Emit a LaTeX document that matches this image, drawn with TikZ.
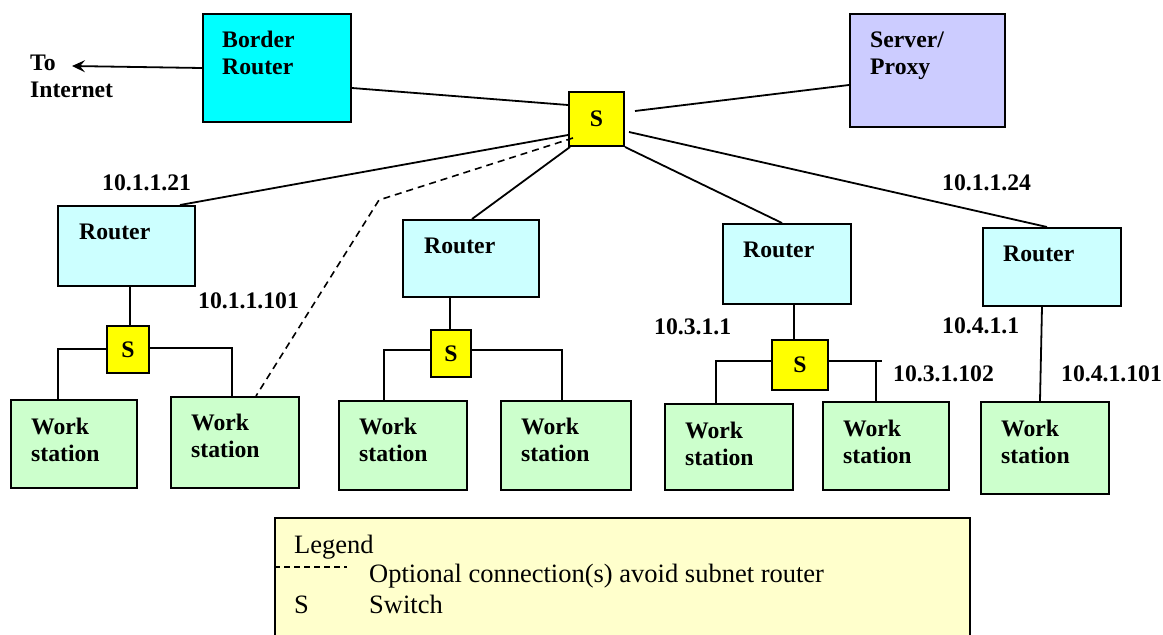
\documentclass[tikz,border=0pt]{standalone}
\usepackage{fontspec}
\setmainfont{Liberation Serif}
\usetikzlibrary{calc,arrows.meta}
\definecolor{brfill}{RGB}{0,255,255}
\definecolor{srvfill}{RGB}{204,204,255}
\definecolor{rtrfill}{RGB}{204,255,255}
\definecolor{wsfill}{RGB}{204,255,204}
\definecolor{swfill}{RGB}{255,255,0}
\definecolor{legfill}{RGB}{255,255,204}
\begin{document}
\begin{tikzpicture}[x=1pt,y=-1pt,
  box/.style={draw=black, line width=2pt, anchor=north west, inner sep=0pt},
  rtr/.style={box, fill=rtrfill},
  ws/.style={box, fill=wsfill},
  sw/.style={box, fill=swfill, font=\bfseries\fontsize{23.7}{27}\selectfont},
  lbl/.style={anchor=base west, inner sep=0pt, font=\bfseries\fontsize{23.7}{27}\selectfont},
  leg/.style={anchor=base west, inner sep=0pt, font=\fontsize{26.5}{30}\selectfont},
  conn/.style={line width=1.8pt},
  opt/.style={line width=1.6pt, dash pattern=on 7pt off 5pt}]
\useasboundingbox (0,0) rectangle (1163,635);

% top row
\node[box, fill=brfill, minimum width=148, minimum height=108] (br) at (202,13) {};
\node[lbl] (brt1) at (222,47) {Border};
\node[lbl] (brt2) at (222,74) {Router};
\node[box, fill=srvfill, minimum width=155, minimum height=113] (srv) at (849,13) {};
\node[lbl] (srvt1) at (870,47) {Server/};
\node[lbl] (srvt2) at (870,74) {Proxy};
\node[sw, minimum width=55, minimum height=54] (cs) at (568,91) {S};
\node[lbl] (inet1) at (30,70) {To};
\node[lbl] (inet2) at (30,97) {Internet};
\coordinate (inetpt) at (72,66);

% routers
\node[rtr, minimum width=137, minimum height=80] (r1) at (57,205) {};
\node[lbl] (r1t) at (79,239) {Router};
\node[rtr, minimum width=136, minimum height=77] (r2) at (402,219) {};
\node[lbl] (r2t) at (424,253) {Router};
\node[rtr, minimum width=128, minimum height=80] (r3) at (722,223) {};
\node[lbl] (r3t) at (743,257) {Router};
\node[rtr, minimum width=138, minimum height=78] (r4) at (982,227) {};
\node[lbl] (r4t) at (1003,261) {Router};

% switches
\node[sw, minimum width=42, minimum height=47] (s1) at (106,325) {S};
\node[sw, minimum width=40, minimum height=47] (s2) at (430,329) {S};
\node[sw, minimum width=56, minimum height=50] (s3) at (771,339) {S};

% workstations
\node[ws, minimum width=126, minimum height=88] (w1) at (10,399) {};
\node[lbl] (w1a) at (31,434) {Work};
\node[lbl] (w1b) at (31,461) {station};
\node[ws, minimum width=128, minimum height=91] (w2) at (170,396) {};
\node[lbl] (w2a) at (191,430) {Work};
\node[lbl] (w2b) at (191,457) {station};
\node[ws, minimum width=128, minimum height=89] (w3) at (338,400) {};
\node[lbl] (w3a) at (359,434) {Work};
\node[lbl] (w3b) at (359,461) {station};
\node[ws, minimum width=130, minimum height=89] (w4) at (500,400) {};
\node[lbl] (w4a) at (521,434) {Work};
\node[lbl] (w4b) at (521,461) {station};
\node[ws, minimum width=128, minimum height=86] (w5) at (664,403) {};
\node[lbl] (w5a) at (685,438) {Work};
\node[lbl] (w5b) at (685,465) {station};
\node[ws, minimum width=126, minimum height=88] (w6) at (822,401) {};
\node[lbl] (w6a) at (843,436) {Work};
\node[lbl] (w6b) at (843,463) {station};
\node[ws, minimum width=128, minimum height=92] (w7) at (980,401) {};
\node[lbl] (w7a) at (1001,436) {Work};
\node[lbl] (w7b) at (1001,463) {station};

% address labels
\node[lbl] (a1) at (102,190) {10.1.1.21};
\node[lbl] (a2) at (198,308) {10.1.1.101};
\node[lbl] (a3) at (942,190) {10.1.1.24};
\node[lbl] (a4) at (654,334) {10.3.1.1};
\node[lbl] (a5) at (942,333) {10.4.1.1};
\node[lbl] (a6) at (893,381) {10.3.1.102};
\node[lbl] (a7) at (1061,381) {10.4.1.101};

% top connectors
\draw[conn, -{Stealth[length=13pt,width=12pt,inset=5pt]}] ($(br.north west)+(0,55)$) -- (inetpt);
\draw[conn] ($(br.north east)+(0,75)$) -- ($(cs.north west)+(0,14)$);
\draw[conn] ($(cs.east)+(10,-8)$) -- ($(srv.north west)+(0,72)$);
\draw[conn] ($(cs.south west)+(0,-12)$) -- ($(r1.north west)+(123,0)$);
\coordinate (bend) at (379,200);
\draw[opt] ($(cs.south west)+(5,-9)$) -- (bend) -- ($(w2.north west)+(86,0)$);
\draw[conn] ($(cs.south west)+(2,0)$) -- ($(r2.north west)+(70,0)$);
\draw[conn] (cs.south east) -- ($(r3.north west)+(60,0)$);
\draw[conn] ($(cs.east)+(4,13)$) -- ($(r4.north west)+(65,0)$);

% subnet 1
\coordinate (p1) at ($(r1.south west)+(73,0)$);
\draw[conn] (p1) -- (p1 |- s1.north);
\coordinate (q1) at (58,349);
\draw[conn] (s1.west |- q1) -- (q1) -- (q1 |- w1.north);
\coordinate (q2) at (232,348);
\draw[conn] (s1.east |- q2) -- (q2) -- (q2 |- w2.north);

% subnet 2
\coordinate (p2) at ($(r2.south west)+(48,0)$);
\draw[conn] (p2) -- (p2 |- s2.north);
\coordinate (q3) at (384,350);
\draw[conn] (s2.west |- q3) -- (q3) -- (q3 |- w3.north);
\coordinate (q4) at (562,350);
\draw[conn] (s2.east |- q4) -- (q4) -- (q4 |- w4.north);

% subnet 3
\coordinate (p3) at ($(r3.south west)+(72,0)$);
\draw[conn] (p3) -- (p3 |- s3.north);
\coordinate (q5) at (716,361);
\draw[conn] (s3.west |- q5) -- (q5) -- (q5 |- w5.north);
\coordinate (q6) at (876,361);
\coordinate (q6e) at (882,361);
\draw[conn] (s3.east |- q6) -- (q6e);
\draw[conn] (q6) -- (q6 |- w6.north);

% subnet 4
\draw[conn] ($(r4.south west)+(60,0)$) -- ($(w7.north west)+(60,0)$);

% legend
\node[box, fill=legfill, minimum width=695, minimum height=135] (legend) at (274,517) {};
\node[leg] (lg1) at (294,553) {Legend};
\coordinate (dl) at (347,567);
\draw[opt, line width=1.4pt, dash pattern=on 6pt off 4pt] (legend.west |- dl) -- (dl);
\node[leg] (lg2) at (369,582) {Optional connection(s) avoid subnet router};
\node[leg] (lg3) at (294,613) {S};
\node[leg] (lg4) at (369,613) {Switch};
\end{tikzpicture}
\end{document}
